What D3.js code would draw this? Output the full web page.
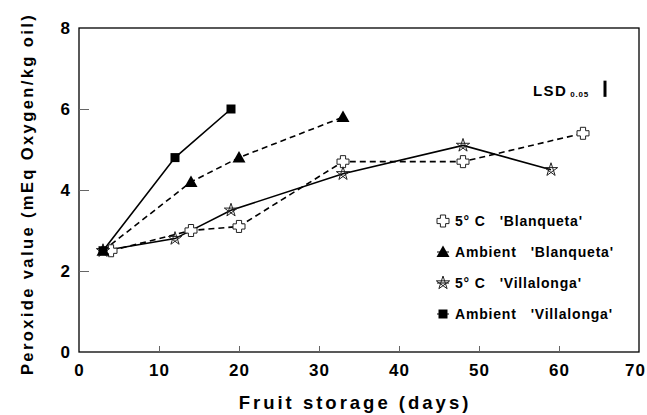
<!DOCTYPE html>
<html>
<head>
<meta charset="utf-8">
<script src="https://cdn.jsdelivr.net/npm/d3@7"></script>
<style>
  body { margin: 0; background: #fff; }
  svg text { font-family: "Liberation Sans", Arial, sans-serif; font-weight: bold; fill: #000; }
</style>
</head>
<body>
<svg id="chart" width="647" height="415"></svg>
<script>
// data
const days5Blanq = [4, 14, 20, 33, 48, 63];
const pv5Blanq = [2.5, 3.0, 3.1, 4.7, 4.7, 5.4];
const daysAmbBlanq = [3, 14, 20, 33];
const pvAmbBlanq = [2.5, 4.2, 4.8, 5.8];
const days5Villa = [3, 12, 19, 33, 48, 59];
const pv5Villa = [2.5, 2.8, 3.5, 4.4, 5.1, 4.5];
const daysAmbVilla = [3, 12, 19];
const pvAmbVilla = [2.5, 4.8, 6.0];
const xTicks = [0, 10, 20, 30, 40, 50, 60, 70];
const yTicks = [0, 2, 4, 6, 8];
const lsd = 0.4;

const series = [
  { name: "5\u00b0 C   'Blanqueta'", x: days5Blanq, y: pv5Blanq, dash: '6,4', marker: 'cross' },
  { name: "Ambient   'Blanqueta'", x: daysAmbBlanq, y: pvAmbBlanq, dash: '6,4', marker: 'triangle' },
  { name: "5\u00b0 C   'Villalonga'", x: days5Villa, y: pv5Villa, dash: null, marker: 'star' },
  { name: "Ambient   'Villalonga'", x: daysAmbVilla, y: pvAmbVilla, dash: null, marker: 'square' }
];

const svg = d3.select('#chart');
const m = { left: 79, right: 639, top: 28, bottom: 352 };

const x = d3.scaleLinear().domain([0, 70]).range([m.left, m.right]);
const y = d3.scaleLinear().domain([0, 8]).range([m.bottom, m.top]);

// frame
svg.append('rect')
  .attr('x', m.left).attr('y', m.top)
  .attr('width', m.right - m.left).attr('height', m.bottom - m.top)
  .attr('fill', 'none').attr('stroke', '#000').attr('stroke-width', 1.3);

// axes with inward ticks
const xAxis = svg.append('g').attr('transform', 'translate(0,' + m.bottom + ')')
  .call(d3.axisBottom(x).tickValues(xTicks).tickSizeInner(-6).tickSizeOuter(0).tickPadding(12));
const yAxis = svg.append('g').attr('transform', 'translate(' + m.left + ',0)')
  .call(d3.axisLeft(y).tickValues(yTicks).tickSizeInner(-10).tickSizeOuter(0).tickPadding(8));
[xAxis, yAxis].forEach(function (g) {
  g.select('.domain').remove();
  g.selectAll('.tick line').attr('stroke', '#666');
  g.selectAll('.tick text')
    .style('font-size', '17px').style('font-weight', 'bold')
    .style('font-family', '"Liberation Sans", Arial, sans-serif')
    .style('fill', '#000').style('letter-spacing', '1px');
});
xAxis.selectAll('.tick').filter(function (d) { return d === 0 || d === 70; }).select('line').remove();
yAxis.selectAll('.tick').filter(function (d) { return d === 0 || d === 8; }).select('line').remove();
xAxis.selectAll('.tick').filter(function (d) { return d === 70; }).select('text').attr('dx', -4);

// axis titles
svg.append('text')
  .attr('x', 355).attr('y', 409)
  .attr('text-anchor', 'middle').attr('font-size', 18.5)
  .style('letter-spacing', '3px')
  .text('Fruit storage (days)');
svg.append('text')
  .attr('transform', 'translate(33,194) rotate(-90)')
  .attr('text-anchor', 'middle').attr('font-size', 16.5)
  .style('letter-spacing', '2.4px')
  .text('Peroxide value (mEq Oxygen/kg oil)');

// marker shapes
function markerPath(type) {
  if (type === 'cross') {
    const a = 2.6, b = 6;
    return 'M' + -a + ',' + -b + 'H' + a + 'V' + -a + 'H' + b + 'V' + a + 'H' + a + 'V' + b +
      'H' + -a + 'V' + a + 'H' + -b + 'V' + -a + 'H' + -a + 'Z';
  }
  if (type === 'triangle') return 'M0,-6.5L6.5,5L-6.5,5Z';
  if (type === 'square') return 'M-4.5,-4.5H4.5V4.5H-4.5Z';
  // pentagram
  const r = 7;
  const pts = d3.range(5).map(function (i) {
    const a = -Math.PI / 2 + i * 2 * Math.PI / 5;
    return [r * Math.cos(a), r * Math.sin(a)];
  });
  const order = [0, 2, 4, 1, 3];
  return 'M' + order.map(function (i) { return pts[i].join(','); }).join('L') + 'Z';
}
function markerStyle(sel, type) {
  if (type === 'cross') sel.attr('fill', '#fff').attr('stroke', '#222').attr('stroke-width', 1);
  else if (type === 'star') sel.attr('fill', 'none').attr('stroke', '#222').attr('stroke-width', 1);
  else sel.attr('fill', '#000').attr('stroke', 'none');
}

const line = d3.line().x(function (d) { return x(d[0]); }).y(function (d) { return y(d[1]); });

series.forEach(function (s) {
  const pts = s.x.map(function (v, i) { return [v, s.y[i]]; });
  svg.append('path')
    .attr('d', line(pts))
    .attr('fill', 'none').attr('stroke', '#000').attr('stroke-width', 1.6)
    .attr('stroke-dasharray', s.dash);
});
series.forEach(function (s) {
  const pts = s.x.map(function (v, i) { return [v, s.y[i]]; });
  svg.selectAll(null).data(pts).enter().append('path')
    .attr('transform', function (d) { return 'translate(' + x(d[0]) + ',' + y(d[1]) + ')'; })
    .attr('d', markerPath(s.marker))
    .call(markerStyle, s.marker);
});

// legend
const legend = svg.append('g').attr('transform', 'translate(443,221)');
series.forEach(function (s, i) {
  const row = legend.append('g').attr('transform', 'translate(0,' + i * 31 + ')');
  row.append('line').attr('x1', -6).attr('x2', 6).attr('stroke', '#000').attr('stroke-width', 1);
  row.append('path').attr('d', markerPath(s.marker)).call(markerStyle, s.marker);
  row.append('text').attr('x', 12).attr('y', 5).attr('font-size', 14)
    .style('letter-spacing', '0.8px')
    .style('white-space', 'pre').attr('xml:space', 'preserve').text(s.name);
});

// LSD bar
const lsdText = svg.append('text').attr('x', 533).attr('y', 96).attr('font-size', 15)
  .style('letter-spacing', '1.4px');
lsdText.append('tspan').text('LSD');
lsdText.append('tspan').attr('dx', 3).attr('dy', 1).attr('font-size', 8)
  .style('letter-spacing', '0.8px').text('0.05');
svg.append('line')
  .attr('x1', 605).attr('x2', 605)
  .attr('y1', y(6.3)).attr('y2', y(6.3) - (y(0) - y(lsd)))
  .attr('stroke', '#000').attr('stroke-width', 3);
</script>
</body>
</html>
